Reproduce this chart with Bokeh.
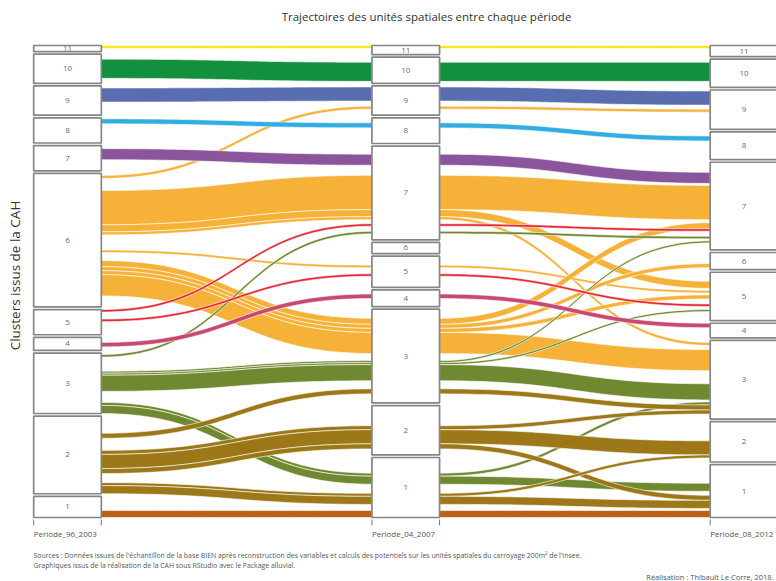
import numpy as np
from bokeh.plotting import figure
from bokeh.models import Range1d, Label
from bokeh.core.properties import value
from bokeh.embed import file_html
from bokeh.resources import INLINE

FONT = "Open Sans"

# ---------------------------------------------------------------- data
periods = ["Periode_96_2003", "Periode_04_2007", "Periode_08_2012"]
clusters = [1, 2, 3, 4, 5, 6, 7, 8, 9, 10, 11]
cluster_colors = ["#B85D12", "#9A7412", "#6B8428", "#C8436E", "#E5202E", "#F6B032",
                  "#874F9A", "#2CA9E1", "#5468AE", "#0A8C37", "#F9E51B"]

# trajectories: cluster in period 1 / period 2 / period 3, number of units, drawn or hidden
per1 = [11, 11,
        10, 10, 10, 10, 10, 10,
        9, 9, 9, 9, 9, 9, 9,
        8, 8, 8, 8, 8, 8, 8, 8, 8, 8,
        7, 7, 7, 7, 7, 7,
        6, 6, 6, 6, 6, 6, 6, 6, 6, 6, 6, 6, 6, 6, 6, 6, 6, 6, 6, 6, 6, 6, 6, 6, 6, 6, 6, 6,
        5, 5, 5, 5, 5, 5, 5, 5, 5,
        4, 4, 4, 4, 4,
        3, 3, 3, 3, 3, 3, 3, 3, 3, 3, 3, 3, 3, 3, 3, 3, 3,
        2, 2, 2, 2, 2, 2, 2, 2, 2, 2, 2, 2, 2, 2, 2, 2, 2, 2, 2, 2, 2, 2,
        1, 1, 1, 1, 1, 1, 1]
per2 = [11, 10,
        11, 10, 10, 9, 8, 3,
        10, 9, 9, 8, 7, 3, 1,
        9, 8, 8, 8, 8, 7, 6, 5, 3, 1,
        8, 7, 7, 7, 5, 1,
        9, 9, 9, 9, 8, 7, 7, 7, 7, 7, 7, 7, 6, 6, 5, 5, 5, 5, 4, 3, 3, 3, 3, 3, 2, 2, 2, 1,
        7, 7, 6, 5, 5, 5, 2, 3, 1,
        7, 4, 4, 3, 1,
        8, 7, 7, 5, 5, 5, 4, 3, 3, 3, 3, 3, 3, 2, 2, 1, 1,
        11, 3, 9, 8, 7, 5, 5, 4, 3, 3, 3, 2, 2, 2, 2, 2, 1, 1, 1, 1, 1, 1,
        3, 2, 2, 2, 1, 1, 1]
per3 = [11, 10,
        11, 11, 10, 9, 8, 2,
        10, 9, 8, 9, 7, 2, 1,
        9, 8, 7, 6, 5, 7, 6, 5, 8, 1,
        8, 7, 5, 3, 5, 1,
        10, 9, 8, 7, 8, 9, 8, 7, 5, 3, 2, 1, 6, 5, 7, 6, 5, 3, 5, 9, 7, 6, 5, 3, 9, 5, 2, 1,
        7, 5, 9, 9, 5, 3, 3, 3, 1,
        7, 7, 4, 5, 1,
        8, 7, 3, 6, 7, 5, 4, 9, 7, 5, 3, 2, 1, 3, 2, 3, 1,
        11, 10, 9, 8, 7, 7, 5, 4, 3, 2, 1, 8, 5, 3, 2, 1, 9, 5, 4, 3, 2, 1,
        3, 7, 2, 1, 5, 2, 1]
units = [3, 3,
         3, 2, 19, 1, 2, 2,
         2, 14, 2, 3, 4, 2, 2,
         1, 5, 2, 3, 2, 4, 2, 1, 3, 2,
         3, 11, 3, 2, 3, 3,
         2, 3, 2, 2, 3, 2, 3, 34, 7, 3, 2, 2, 4, 2, 3, 2, 2.5, 4, 2, 2, 6, 4, 4, 21, 2, 3, 2, 4,
         2.5, 2, 3, 2, 2.5, 4, 3, 3, 3,
         3, 2, 4.5, 2, 1.5,
         1.5, 2.5, 3, 2, 2, 1, 4, 2, 2, 2, 16, 5, 1, 2, 3, 3, 8,
         3, 2, 2, 1, 3, 1, 1, 4, 5, 3, 4, 2, 3, 4, 14, 5, 2, 2, 2, 3, 3, 8,
         2, 3, 1, 2, 3, 3, 7]
shown = [1, 0,
         0, 0, 1, 0, 0, 0,
         0, 1, 0, 0, 0, 0, 0,
         0, 1, 0, 0, 0, 0, 0, 0, 0, 0,
         0, 1, 0, 0, 0, 0,
         0, 1, 0, 0, 0, 0, 0, 1, 1, 1, 0, 0, 0, 0, 0, 0, 1, 0, 0, 0, 1, 1, 1, 1, 0, 0, 0, 0,
         1, 0, 0, 0, 1, 0, 0, 0, 0,
         0, 0, 1, 0, 0,
         0, 1, 0, 0, 0, 0, 0, 0, 1, 1, 1, 0, 0, 0, 0, 1, 1,
         0, 0, 0, 0, 0, 0, 0, 0, 1, 0, 0, 0, 0, 1, 1, 1, 0, 0, 0, 0, 1, 1,
         0, 0, 0, 0, 0, 0, 1]

title = "Trajectoires des unités spatiales entre chaque période"
ylabel = "Clusters issus de la CAH"
source1 = ("Sources : Données issues de l'échantillon de la base BIEN après reconstruction des variables "
           "et calculs des potentiels sur les unités spatiales du carroyage 200m² de l'Insee.")
source2 = "Graphiques issus de la réalisation de la CAH sous RStudio avec le Package alluvial."
credit = "Réalisation : Thibault Le Corre, 2018."

# ---------------------------------------------------------------- layout (alluvial-style stacking)
D = np.column_stack([per1, per2, per3])
F = np.array(units, dtype=float)
SH = np.array(shown, dtype=bool)
n = len(F)
GAP = 0.055
CW = 0.1
frac = F / F.sum()


def stack(i):
    others = [j for j in range(3) if j != i]
    keys = tuple(D[:, j] for j in reversed(others)) + (D[:, i],)
    o = np.lexsort(keys)
    cum = np.concatenate([[0.0], np.cumsum(frac[o])]) * (1 - GAP)
    s = D[o, i]
    g = np.concatenate([[0], np.cumsum(np.diff(s) != 0)]).astype(float)
    g = g / max(g.max(), 1) * GAP
    yb = np.empty(n)
    yt = np.empty(n)
    yb[o] = cum[:-1] + g
    yt[o] = cum[1:] + g
    return yb, yt


YB, YT = [], []
for i in range(3):
    b, t = stack(i)
    YB.append(b)
    YT.append(t)

# ---------------------------------------------------------------- figure
W, H = 776, 581
PXU = 338.25          # pixels per axis unit
X0 = 1 - 67 / PXU
Y_BOT = -(H - 517) / 472.0
Y_TOP = 1 + 45 / 472.0

p = figure(width=W, height=H, output_backend="svg", toolbar_location=None,
           x_range=Range1d(X0, X0 + W / PXU), y_range=Range1d(Y_BOT, Y_TOP),
           min_border=0, min_border_left=0, min_border_right=0,
           min_border_top=0, min_border_bottom=0)
p.xaxis.visible = False
p.yaxis.visible = False
p.xgrid.visible = False
p.ygrid.visible = False
p.outline_line_color = None
p.background_fill_color = "white"


def rx(px):
    return X0 + px / PXU


def ry(py):
    return 1 - (py - 45) / 472.0


# flows
tt = np.linspace(0, 1, 48)
b0 = (1 - tt) ** 3 + 3 * (1 - tt) ** 2 * tt
b1 = 1 - b0
layer_rank = {6: 0, 3: 1, 2: 2}
order = sorted(range(n), key=lambda k: (layer_rank.get(per1[k], 3), k))
xs, ys, cols = [], [], []
for a in range(2):
    xa = a + 1 + CW
    xb = a + 2 - CW
    m = (xa + xb) / 2
    xc = (1 - tt) ** 3 * xa + 3 * (1 - tt) ** 2 * tt * m + 3 * (1 - tt) * tt ** 2 * m + tt ** 3 * xb
    for k in order:
        if not SH[k]:
            continue
        top = YT[a][k] * b0 + YT[a + 1][k] * b1
        bot = YB[a][k] * b0 + YB[a + 1][k] * b1
        xs.append(list(xc) + list(xc[::-1]))
        ys.append(list(top) + list(bot[::-1]))
        cols.append(cluster_colors[per1[k] - 1])

p.patches(xs, ys, fill_color=cols, fill_alpha=0.97, line_color="white", line_width=0.6)

# strata boxes
bl, br, bb, bt, lx, ly, lt = [], [], [], [], [], [], []
for a in range(3):
    for c in clusters:
        mask = D[:, a] == c
        if not mask.any():
            continue
        lo = YB[a][mask].min()
        hi = YT[a][mask].max()
        bl.append(a + 1 - CW)
        br.append(a + 1 + CW)
        bb.append(lo)
        bt.append(hi)
        lx.append(a + 1)
        ly.append((lo + hi) / 2)
        lt.append(str(c))
p.quad(left=bl, right=br, bottom=bb, top=bt, fill_color="white",
       line_color="#858585", line_width=1.7)
p.text(x=lx, y=ly, text=lt, text_font=value(FONT), text_font_size="8px",
       text_color="#6a6a6a", text_align="center", text_baseline="middle")

# period ticks + labels
tx0, tx1, ty0, ty1 = [], [], [], []
for a in range(3):
    for e in (a + 1 - CW, a + 1 + CW):
        tx0.append(e)
        tx1.append(e)
        ty0.append(ry(519))
        ty1.append(ry(525))
p.segment(x0=tx0, y0=ty0, x1=tx1, y1=ty1, line_color="#777777", line_width=1)
for a in range(3):
    p.add_layout(Label(x=a + 1 - CW, y=ry(533), text=periods[a], text_font=FONT,
                       text_font_size="8px", text_color="#555555",
                       text_align="left", text_baseline="middle"))

# titles and notes
p.add_layout(Label(x=rx(426), y=ry(16), text=title, text_font=FONT, text_font_size="11.5px",
                   text_color="#333333", text_align="center", text_baseline="middle"))
p.add_layout(Label(x=rx(14), y=ry(275), text=ylabel, text_font=FONT, text_font_size="13.5px",
                   text_color="#333333", text_align="center", text_baseline="middle",
                   angle=np.pi / 2))
p.add_layout(Label(x=rx(33), y=ry(555), text=source1, text_font=FONT, text_font_size="6.9px",
                   text_color="#555555", text_align="left", text_baseline="middle"))
p.add_layout(Label(x=rx(33), y=ry(565), text=source2, text_font=FONT, text_font_size="6.9px",
                   text_color="#555555", text_align="left", text_baseline="middle"))
p.add_layout(Label(x=rx(773), y=ry(576), text=credit, text_font=FONT, text_font_size="7.5px",
                   text_color="#555555", text_align="right", text_baseline="middle"))

open("out.html", "w").write(file_html(p, INLINE))
